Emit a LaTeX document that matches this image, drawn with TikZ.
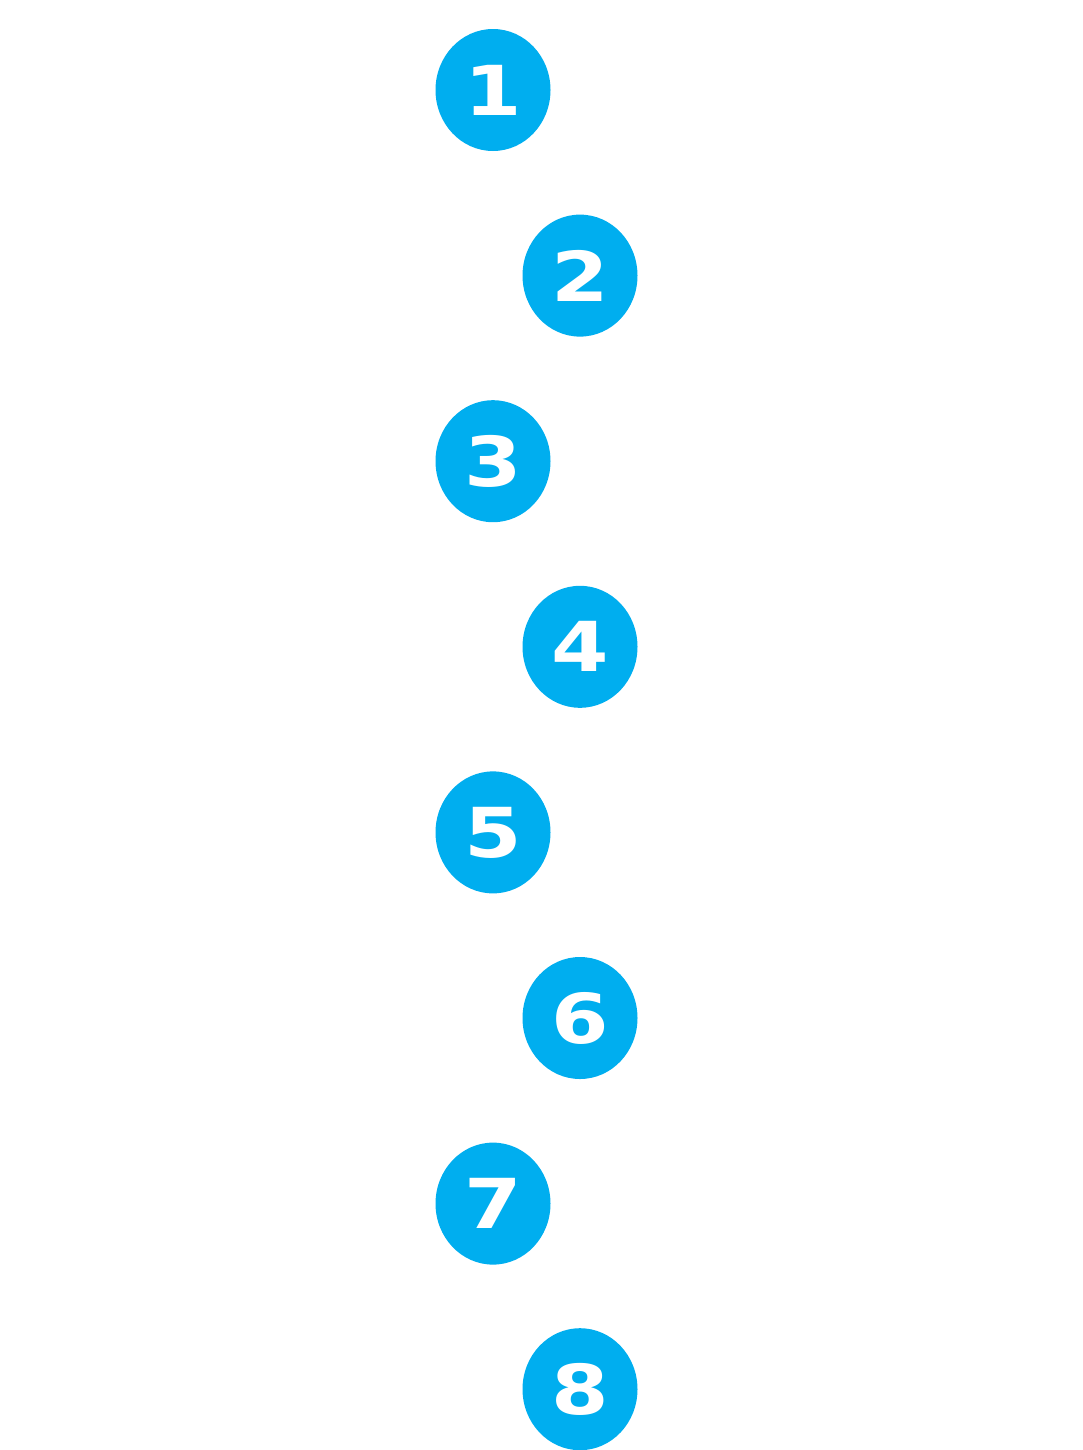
\documentclass[tikz,border=0pt]{standalone}
\usepackage{fontspec}
\setmainfont{DejaVu Sans}
\usetikzlibrary{positioning, shapes.geometric}
\definecolor{stepblue}{HTML}{00AEEF}

\begin{document}
\begin{tikzpicture}[
    node distance=1.59cm,
    every node/.style={ellipse, fill=stepblue, outer sep=0pt, minimum width=2.875cm, minimum height=3.05cm, inner sep=0pt, text=white, font=\fontsize{49}{49}\selectfont\bfseries},
    right/.style={xshift=2.175cm},
    back/.style={xshift=-2.175cm}
]
\useasboundingbox (0,0) rectangle (27.075,-36.25);
\node (1) at (12.325,-2.25) {\scalebox{1.2}[1]{1}};
\node[below=of 1, right] (2) {\scalebox{1.2}[1]{2}};
\node[below=of 2, back] (3) {\scalebox{1.2}[1]{3}};
\node[below=of 3, right] (4) {\scalebox{1.2}[1]{4}};
\node[below=of 4, back] (5) {\scalebox{1.2}[1]{5}};
\node[below=of 5, right] (6) {\scalebox{1.2}[1]{6}};
\node[below=of 6, back] (7) {\scalebox{1.2}[1]{7}};
\node[below=of 7, right] (8) {\scalebox{1.2}[1]{8}};
\end{tikzpicture}
\end{document}
